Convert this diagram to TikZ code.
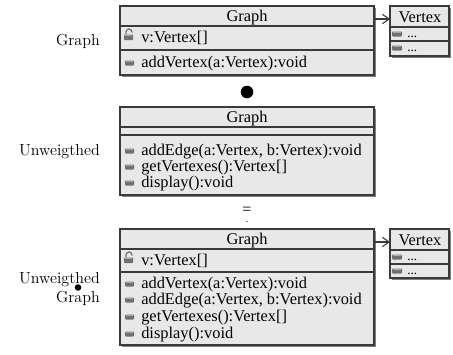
\documentclass[tikz,border=0pt]{standalone}
\usepackage{fontspec}
\newfontfamily\umlfont{Liberation Serif}
\usetikzlibrary{arrows.meta,shadows}
\definecolor{boxfill}{HTML}{E8E8E8}
\definecolor{boxline}{HTML}{3A3A3A}
\definecolor{icondark}{HTML}{707070}
\definecolor{iconlight}{HTML}{A8A8A8}
\newcommand\methicon[2]{%
  \fill[icondark, rounded corners=0.6pt] ({#1-5},{#2-2.5}) rectangle ({#1+4},{#2+2.5});
  \fill[iconlight] ({#1-4},{#2-2}) rectangle ({#1+3},{#2-0.8});
}
\newcommand\vtxicon[2]{%
  \fill[icondark, rounded corners=0.6pt] ({#1-5},{#2-2.5}) rectangle ({#1+5},{#2+2.5});
  \fill[iconlight] ({#1-4},{#2-2}) rectangle ({#1+4},{#2-0.8});
}
\newcommand\lockicon[2]{%
  \draw[icondark, line width=0.9pt] ({#1-3},{#2-1}) -- ({#1-3},{#2-3}) arc[start angle=180, end angle=0, x radius=3, y radius=-3] -- ({#1+3},{#2-2.5});
  \fill[icondark, rounded corners=0.5pt] ({#1-5},{#2-0.5}) rectangle ({#1+4},{#2+5});
  \fill[iconlight] ({#1-4},{#2}) rectangle ({#1+3},{#2+1.2});
}
\begin{document}
\begin{tikzpicture}[x=0.75pt,y=-0.75pt,
  box/.style={draw=boxline, fill=boxfill, line width=0.9pt, inner sep=0pt, outer sep=0pt,
    anchor=north west,
    drop shadow={shadow xshift=1.4pt, shadow yshift=-1.4pt, fill=black!50, opacity=1}},
  sep/.style={draw=boxline, line width=0.9pt},
  txt/.style={font=\umlfont\fontsize{12.3}{14}\selectfont, inner sep=0pt, anchor=base west},
  hdr/.style={font=\umlfont\fontsize{12.3}{14}\selectfont, inner sep=0pt, anchor=base},
  small/.style={font=\umlfont\fontsize{10}{12}\selectfont, inner sep=0pt, anchor=base west},
  lbl/.style={font=\fontsize{12}{14}\selectfont, inner sep=0pt, anchor=base east},
  assoc/.style={draw=boxline, line width=0.8pt, -{Straight Barb[length=5pt,width=7pt]}},
]
\useasboundingbox (0,0) rectangle (453,354);

% ---------- Box 1 ----------
\node[box, minimum width=190.5pt, minimum height=51.75pt] (g1) at (120,6) {};
\draw[sep] (120,26) -- (374,26);
\draw[sep] (120,50) -- (374,50);
\node[hdr] (g1h) at (247,21) {Graph};
\lockicon{129}{35}
\node[txt] (g1a) at (141,42) {v:Vertex[]};
\methicon{130}{63}
\node[txt] (g1m1) at (141,67) {addVertex(a:Vertex):void};

\node[box, minimum width=44.25pt, minimum height=37.5pt] (v1) at (390,6) {};
\draw[sep] (390,27) -- (449,27);
\draw[sep] (390,41) -- (449,41);
\node[hdr] (v1h) at (420,22) {Vertex};
\vtxicon{397}{34}
\node[small] (v1a) at (407,37) {...};
\vtxicon{397}{48}
\node[small] (v1b) at (407,51) {...};
\coordinate (a1s) at (374,19);
\coordinate (a1e) at (390,19);
\draw[assoc] (a1s) -- (a1e);

\node[lbl] (l1) at (100,45) {Graph};

% ---------- dot ----------
\fill (247,92) circle[radius=6.3];

% ---------- Box 2 ----------
\node[box, minimum width=190.5pt, minimum height=66pt] (g2) at (120,107) {};
\draw[sep] (120,127) -- (374,127);
\draw[sep] (120,135) -- (374,135);
\node[hdr] (g2h) at (247,122) {Graph};
\methicon{130}{151}
\node[txt] (g2m1) at (141,155) {addEdge(a:Vertex, b:Vertex):void};
\methicon{130}{167}
\node[txt] (g2m2) at (141,171) {getVertexes():Vertex[]};
\methicon{130}{183}
\node[txt] (g2m3) at (141,187) {display():void};

\node[lbl] (l2) at (100,155) {Unweigthed};

% ---------- equals ----------
\node[font=\umlfont\fontsize{12}{14}\selectfont, inner sep=0pt] (eq) at (247,211) {=};
\fill (247,221.5) circle[radius=0.6];

% ---------- Box 3 ----------
\node[box, minimum width=190.5pt, minimum height=87pt] (g3) at (120,229) {};
\draw[sep] (120,249) -- (374,249);
\draw[sep] (120,272) -- (374,272);
\node[hdr] (g3h) at (247,244) {Graph};
\lockicon{129}{258}
\node[txt] (g3a) at (141,265) {v:Vertex[]};
\methicon{130}{284}
\node[txt] (g3m1) at (141,288) {addVertex(a:Vertex):void};
\methicon{130}{300}
\node[txt] (g3m2) at (141,304) {addEdge(a:Vertex, b:Vertex):void};
\methicon{130}{317}
\node[txt] (g3m3) at (141,321) {getVertexes():Vertex[]};
\methicon{130}{334}
\node[txt] (g3m4) at (141,338) {display():void};

\node[box, minimum width=44.25pt, minimum height=36.75pt] (v2) at (390,229) {};
\draw[sep] (390,250) -- (449,250);
\draw[sep] (390,264) -- (449,264);
\node[hdr] (v2h) at (420,245) {Vertex};
\vtxicon{397}{257}
\node[small] (v2a) at (407,260) {...};
\vtxicon{397}{271}
\node[small] (v2b) at (407,274) {...};
\coordinate (a2s) at (374,242);
\coordinate (a2e) at (390,242);
\draw[assoc] (a2s) -- (a2e);

\node[lbl] (l3a) at (100,283) {Unweigthed};
\node[lbl] (l3b) at (100,302) {Graph};
\fill (78,287.5) circle[radius=3.3];
\end{tikzpicture}
\end{document}
